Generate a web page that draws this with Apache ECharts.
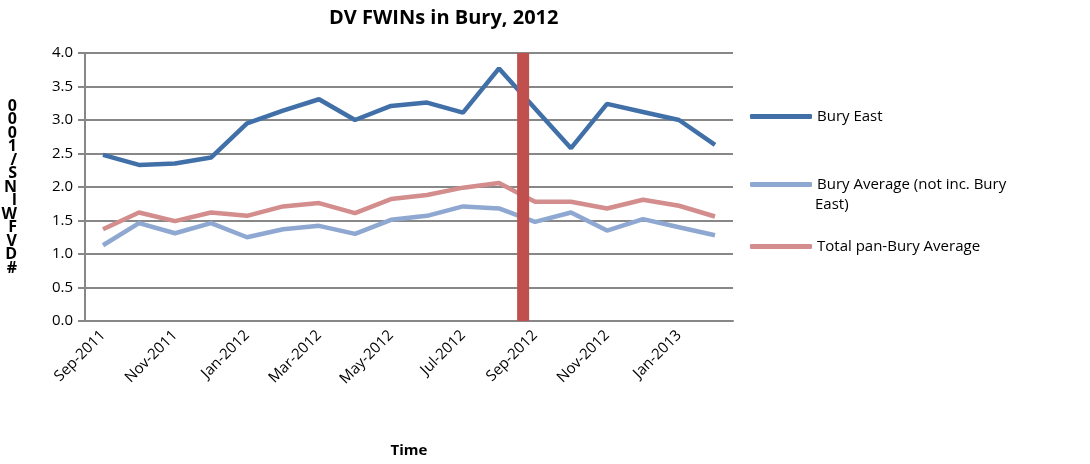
<!DOCTYPE html>
<html>
<head>
<meta charset="utf-8">
<script src="https://cdn.jsdelivr.net/npm/echarts@6/dist/echarts.min.js"></script>
<style>
  html, body { margin: 0; padding: 0; background: #fff; }
  #chart { width: 1090px; height: 464px; }
</style>
</head>
<body>
<div id="chart"></div>
<script>
const months = [
  'Sep-2011', 'Oct-2011', 'Nov-2011', 'Dec-2011', 'Jan-2012', 'Feb-2012',
  'Mar-2012', 'Apr-2012', 'May-2012', 'Jun-2012', 'Jul-2012', 'Aug-2012',
  'Sep-2012', 'Oct-2012', 'Nov-2012', 'Dec-2012', 'Jan-2013', 'Feb-2013'
]
const buryEast = [2.48, 2.33, 2.35, 2.44, 2.95, 3.14, 3.31, 3.00, 3.21, 3.26, 3.11, 3.77,
  3.17, 2.58, 3.24, 3.12, 3.00, 2.63]
const buryAvgExEast = [1.13, 1.46, 1.31, 1.46, 1.25, 1.37, 1.42, 1.30, 1.51, 1.57, 1.71, 1.68,
  1.48, 1.62, 1.35, 1.52, 1.40, 1.28]
const panBuryAvg = [1.37, 1.62, 1.49, 1.62, 1.57, 1.71, 1.76, 1.61, 1.82, 1.88, 1.99, 2.06,
  1.78, 1.78, 1.68, 1.81, 1.72, 1.56]
// vertical marker, in month-slot units (0 = left edge of Sep-2011)
const markerAt = 12.17
const markerRange = [0, 4]

const font = '"Open Sans", "Liberation Sans", sans-serif'
const grey = '#878787'

const chart = echarts.init(document.getElementById('chart'))

const legendBase = {
  orient: 'vertical',
  icon: 'roundRect',
  itemWidth: 62,
  itemHeight: 5,
  textStyle: { fontFamily: font, fontSize: 15, color: '#000' }
}

chart.setOption({
  animation: false,
  textStyle: { fontFamily: font },
  title: {
    text: 'DV FWINs in Bury, 2012',
    left: 324,
    top: 3,
    textStyle: { fontFamily: font, fontSize: 20, fontWeight: 'bold', color: '#000' }
  },
  legend: [
    Object.assign({}, legendBase, { data: ['Bury East'], left: 745, top: 104 }),
    Object.assign({}, legendBase, { data: ['Bury Average (not inc. Bury'], left: 745, top: 172 }),
    Object.assign({}, legendBase, { data: ['Total pan-Bury Average'], left: 745, top: 234 })
  ],
  graphic: [{
    type: 'text',
    left: 815,
    top: 197,
    style: { text: 'East)', font: '15px ' + font, fill: '#000' }
  }],
  grid: { left: 85, right: 357, top: 53, bottom: 143, outerBoundsMode: 'none', containLabel: false },
  xAxis: [
    {
      type: 'category',
      data: months,
      boundaryGap: true,
      name: 'Time',
      nameLocation: 'middle',
      nameGap: 122,
      nameTextStyle: { fontFamily: font, fontSize: 15, fontWeight: 'bold', color: '#000' },
      axisLine: { lineStyle: { color: grey, width: 2 } },
      axisTick: { interval: 1, length: 6, lineStyle: { color: grey, width: 2 } },
      axisLabel: { interval: 1, rotate: 45, margin: 12, fontSize: 15, color: '#000', fontFamily: font },
      splitLine: { show: false }
    },
    {
      type: 'value',
      min: 0,
      max: months.length,
      show: false
    }
  ],
  yAxis: {
    type: 'value',
    min: 0,
    max: 4,
    interval: 0.5,
    name: '0\n0\n0\n1\n/\nS\nN\nI\nW\nF\nV\nD\n#',
    nameLocation: 'middle',
    nameRotate: 0,
    nameGap: 68,
    nameTextStyle: { fontFamily: font, fontSize: 16, fontWeight: 'bold', color: '#000', lineHeight: 13.5 },
    axisLine: { show: true, lineStyle: { color: grey, width: 2 } },
    axisTick: { show: true, length: 7, lineStyle: { color: grey, width: 2 } },
    axisLabel: { formatter: v => v.toFixed(1), fontSize: 15, color: '#000', margin: 12, fontFamily: font },
    splitLine: { lineStyle: { color: grey, width: 2 } }
  },
  series: [
    {
      name: 'Bury East',
      type: 'line',
      data: buryEast,
      symbol: 'none',
      lineStyle: { width: 4.5, color: '#4170a8' },
      itemStyle: { color: '#4170a8' }
    },
    {
      name: 'Bury Average (not inc. Bury',
      type: 'line',
      data: buryAvgExEast,
      symbol: 'none',
      lineStyle: { width: 4.5, color: '#8ea8d1' },
      itemStyle: { color: '#8ea8d1' }
    },
    {
      name: 'Total pan-Bury Average',
      type: 'line',
      data: panBuryAvg,
      symbol: 'none',
      lineStyle: { width: 4.5, color: '#d28d8c' },
      itemStyle: { color: '#d28d8c' }
    },
    {
      name: 'marker',
      type: 'line',
      xAxisIndex: 1,
      data: markerRange.map(v => [markerAt, v]),
      symbol: 'none',
      lineStyle: { width: 12, color: '#c0504d', cap: 'butt' },
      z: 5
    }
  ]
})

window.addEventListener('resize', () => chart.resize())
</script>
</body>
</html>
